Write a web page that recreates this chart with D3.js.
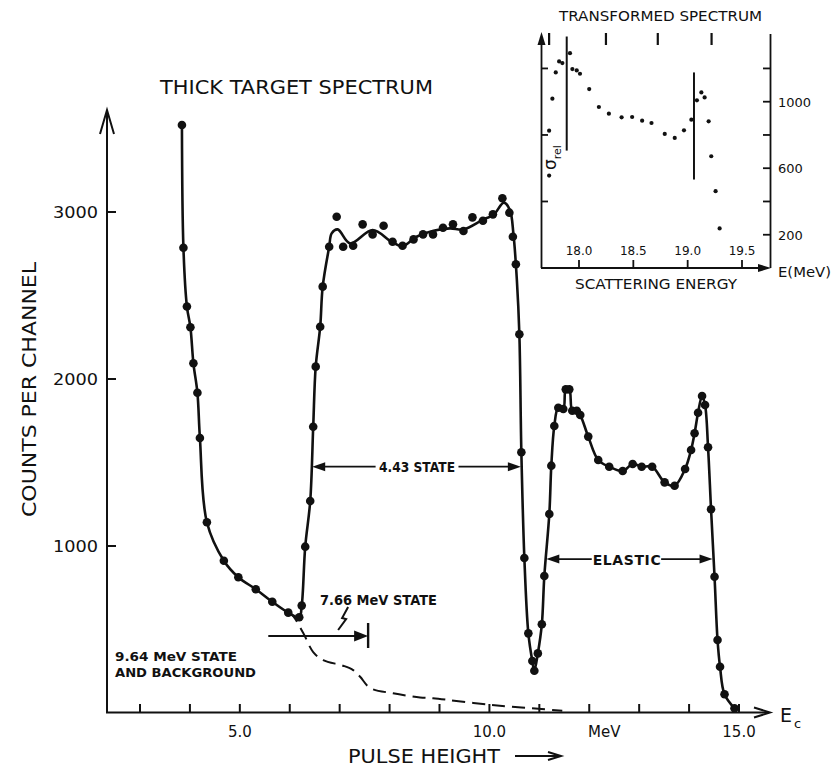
<!DOCTYPE html>
<html><head><meta charset="utf-8">
<script src="https://cdn.jsdelivr.net/npm/d3@7"></script>
<style>
html,body{margin:0;padding:0;background:#fff;}
text{font-family:"DejaVu Sans","Liberation Sans",sans-serif;fill:#111;}
</style></head>
<body>
<svg id="c" width="831" height="767"></svg>
<script>
// ---------- DATA ----------
// main spectrum measured points (pulse height in MeV, counts per channel)
const mainMeV = [3.84,3.87,3.94,4.01,4.07,4.15,4.20,4.34,4.68,4.97,5.32,5.65,5.97,6.19,6.24,6.31,6.41,6.47,6.52,6.61,6.66,6.79,
  6.94,7.07,7.27,7.46,7.66,7.88,8.06,8.26,8.48,8.67,8.87,9.07,9.27,9.48,9.66,9.87,10.07,10.26,10.40,10.47,10.53,10.60,
  10.64,10.70,10.78,10.86,10.90,10.97,11.05,11.10,11.20,11.24,11.30,11.38,11.48,11.53,11.60,11.66,11.75,11.82,11.98,12.18,
  12.40,12.67,12.87,13.05,13.26,13.51,13.71,13.92,14.04,14.11,14.18,14.26,14.32,14.38,14.44,14.51,14.57,14.62,14.71,14.91];
const mainCounts = [3521,2786,2434,2310,2094,1918,1647,1142,912,813,741,666,601,573,643,996,1269,1714,2074,2313,2553,2792,
  2972,2792,2798,2926,2866,2918,2822,2798,2836,2866,2866,2906,2926,2886,2968,2948,2986,3082,2996,2852,2687,2268,
  1561,928,477,311,253,357,531,820,1192,1481,1719,1828,1820,1938,1938,1810,1810,1784,1655,1515,
  1475,1449,1491,1475,1475,1381,1361,1461,1575,1675,1798,1898,1844,1591,1220,816,437,277,112,28];
// smooth fitted line across the 4.43 plateau (elsewhere it follows the points)
const plateauFitMeV = [6.84,6.96,7.21,7.66,8.04,8.26,8.54,8.88,9.21,9.48,9.88,10.08,10.29,10.41,10.48,10.55,10.60];
const plateauFitCounts = [2872,2896,2812,2892,2822,2796,2852,2888,2902,2896,2956,2982,3056,3012,2872,2593,2268];
// dashed "9.64 MeV state and background" curve
const bgMeV = [5.97,6.05,6.27,6.47,6.67,7.07,7.27,7.41,7.61,8.07,8.61,8.87,10.05,11.46];
const bgCounts = [601,587,479,365,317,283,257,217,150,118,93,88,48,14];
// axis ticks
const xTicks = [3,4,5,6,7,8,9,10,11,12,13,14,15];
const xTickLabels = ["5.0","10.0","MeV","15.0"];
const xTickLabelPos = [5,10,12.3,15];
const yTicks = [1000,2000,3000];
const yTickLabels = ["1000","2000","3000"];

// inset: transformed spectrum
const insetE = [17.725,17.725,17.755,17.786,17.817,17.847,17.917,17.939,17.979,18.009,18.094,18.183,18.275,18.392,18.489,
  18.581,18.667,18.789,18.881,18.966,19.034,19.085,19.126,19.156,19.193,19.217,19.257,19.294];
const insetSigma = [556,826,1018,1176,1242,1232,1292,1196,1188,1168,1076,968,928,906,908,886,872,806,782,828,
  892,1008,1056,1026,882,672,462,238];
const insetBarE = [17.887,19.058];
const insetBarLow = [706,532];
const insetBarHigh = [1392,1176];
const insetTopMarksE = [17.725,18.248,18.725,19.22];
const insetXTicks = [18.0,18.5,19.0,19.5];
const insetXTickLabels = ["18.0","18.5","19.0","19.5"];
const insetRightTicks = [200,400,600,800,1000,1200];
const insetRightLabels = [200,600,1000];
const insetLeftTicks = [400,800,1200];

// ---------- DRAW ----------
const svg = d3.select("#c");
const ink = "#111";

const x = d3.scaleLinear().domain([3,15]).range([140,739]);
const y = d3.scaleLinear().domain([0,3000]).range([713,212]);

function tri(g, tx, ty, dir, len, hw){
  let pts;
  if(dir==="right") pts=[[tx,ty],[tx-len,ty-hw],[tx-len,ty+hw]];
  else if(dir==="left") pts=[[tx,ty],[tx+len,ty-hw],[tx+len,ty+hw]];
  else pts=[[tx,ty],[tx-hw,ty+len],[tx+hw,ty+len]];
  g.append("path").attr("d","M"+pts.map(p=>p.join(",")).join("L")+"Z").attr("fill",ink);
}

// main axes
const ax = svg.append("g").attr("stroke",ink).attr("fill","none").attr("stroke-width",2);
ax.append("line").attr("x1",107).attr("x2",107).attr("y1",111).attr("y2",713);
ax.append("path").attr("d","M100,134L107,110L114,134");
ax.append("line").attr("x1",106).attr("x2",769).attr("y1",712.5).attr("y2",712.5);
ax.append("path").attr("d","M754,707.5L770,712.5L754,717.5");
xTicks.forEach(t=>ax.append("line").attr("x1",x(t)).attr("x2",x(t)).attr("y1",712).attr("y2",704));
yTicks.forEach(t=>ax.append("line").attr("x1",107).attr("x2",116).attr("y1",y(t)).attr("y2",y(t)));

xTickLabels.forEach((l,i)=>svg.append("text").attr("x",x(xTickLabelPos[i])).attr("y",737)
  .attr("text-anchor","middle").attr("font-size",15).text(l));
yTickLabels.forEach((l,i)=>svg.append("text").attr("x",98).attr("y",y(yTicks[i])+6)
  .attr("text-anchor","end").attr("font-size",16).attr("textLength",45).attr("lengthAdjust","spacingAndGlyphs").text(l));

// titles
svg.append("text").attr("x",160).attr("y",94).attr("font-size",20).attr("textLength",273)
  .attr("lengthAdjust","spacingAndGlyphs").text("THICK TARGET SPECTRUM");
svg.append("text").attr("transform","translate(36,517) rotate(-90)").attr("font-size",20)
  .attr("textLength",255).attr("lengthAdjust","spacingAndGlyphs").text("COUNTS PER CHANNEL");
svg.append("text").attr("x",348).attr("y",763).attr("font-size",20).attr("textLength",152)
  .attr("lengthAdjust","spacingAndGlyphs").text("PULSE HEIGHT");
ax.append("line").attr("x1",515).attr("x2",560).attr("y1",756).attr("y2",756);
ax.append("path").attr("d","M548,752L561,756L548,760");
const ec = svg.append("text").attr("x",780).attr("y",722).attr("font-size",19);
ec.append("tspan").text("E");
ec.append("tspan").attr("font-size",13).attr("dy",6).attr("dx",2).text("c");

// curves
const pts = mainMeV.map((m,i)=>[m,mainCounts[i]]);
const plateau = plateauFitMeV.map((m,i)=>[m,plateauFitCounts[i]]);
const fit = pts.slice(0,22).concat(plateau).concat(pts.slice(44));
const line = d3.line().x(d=>x(d[0])).y(d=>y(d[1])).curve(d3.curveCatmullRom.alpha(0.5));
svg.append("path").attr("d",line(fit)).attr("fill","none").attr("stroke",ink).attr("stroke-width",2.6);
const bg = bgMeV.map((m,i)=>[m,bgCounts[i]]);
svg.append("path").attr("d",line(bg)).attr("fill","none").attr("stroke",ink).attr("stroke-width",2)
  .attr("stroke-dasharray","13,7");
svg.append("g").selectAll("circle").data(pts).join("circle")
  .attr("cx",d=>x(d[0])).attr("cy",d=>y(d[1])).attr("r",4.3).attr("fill",ink);

// annotations
const an = svg.append("g").attr("stroke",ink).attr("stroke-width",1.8).attr("fill","none");
// 4.43 state
const yA = y(1475);
an.append("line").attr("x1",x(6.45)+8).attr("x2",x(7.72)).attr("y1",yA).attr("y2",yA);
an.append("line").attr("x1",x(9.38)).attr("x2",x(10.63)-8).attr("y1",yA).attr("y2",yA);
tri(svg,x(6.45),yA,"left",13,4.5); tri(svg,x(10.63),yA,"right",13,4.5);
svg.append("text").attr("x",x(8.55)).attr("y",yA+5.5).attr("text-anchor","middle").attr("font-size",14)
  .attr("font-weight","bold").attr("textLength",76).attr("lengthAdjust","spacingAndGlyphs").text("4.43 STATE");
// elastic
const yE = y(922);
an.append("line").attr("x1",x(11.14)+8).attr("x2",x(12.05)).attr("y1",yE).attr("y2",yE);
an.append("line").attr("x1",x(13.44)).attr("x2",x(14.47)-8).attr("y1",yE).attr("y2",yE);
tri(svg,x(11.14),yE,"left",13,4.5); tri(svg,x(14.47),yE,"right",13,4.5);
svg.append("text").attr("x",x(12.75)).attr("y",yE+5.5).attr("text-anchor","middle").attr("font-size",14)
  .attr("font-weight","bold").attr("textLength",68).attr("lengthAdjust","spacing").text("ELASTIC");
// 7.66 MeV state
const y7 = y(461);
an.append("line").attr("x1",x(5.57)).attr("x2",x(7.57)-8).attr("y1",y7).attr("y2",y7);
tri(svg,x(7.57),y7,"right",14,5.5);
an.append("line").attr("x1",x(7.57)).attr("x2",x(7.57)).attr("y1",y7-13).attr("y2",y7+12).attr("stroke-width",2.4);
an.append("path").attr("d",`M${x(7.57)-30},${y7-6}L${x(7.57)-22},${y7-17}L${x(7.57)-26},${y7-18}L${x(7.57)-20},${y7-29}`).attr("stroke-width",2);
svg.append("text").attr("x",320).attr("y",605).attr("font-size",13.5).attr("font-weight","bold")
  .attr("textLength",117).attr("lengthAdjust","spacingAndGlyphs").text("7.66 MeV STATE");
svg.append("text").attr("x",115).attr("y",661).attr("font-size",13).attr("font-weight","bold")
  .attr("textLength",122).attr("lengthAdjust","spacingAndGlyphs").text("9.64 MeV STATE");
svg.append("text").attr("x",115).attr("y",677).attr("font-size",13).attr("font-weight","bold")
  .attr("textLength",141).attr("lengthAdjust","spacingAndGlyphs").text("AND BACKGROUND");

// ---------- INSET ----------
const ix = d3.scaleLinear().domain([18,19.5]).range([579,742]);
const iy = d3.scaleLinear().domain([0,1000]).range([268,101.7]);
const ia = svg.append("g").attr("stroke",ink).attr("stroke-width",1.8).attr("fill","none");
ia.append("line").attr("x1",541.5).attr("x2",541.5).attr("y1",268).attr("y2",42);
tri(svg,541.5,32,"up",13,4);
ia.append("line").attr("x1",770.5).attr("x2",770.5).attr("y1",268).attr("y2",34);
ia.append("line").attr("x1",541).attr("x2",760).attr("y1",268).attr("y2",268);
tri(svg,771,268,"right",13,4);
insetXTicks.forEach(t=>ia.append("line").attr("x1",ix(t)).attr("x2",ix(t)).attr("y1",268).attr("y2",260));
insetRightTicks.forEach(t=>ia.append("line").attr("x1",770).attr("x2",763).attr("y1",iy(t)).attr("y2",iy(t)));
insetLeftTicks.forEach(t=>ia.append("line").attr("x1",541).attr("x2",548).attr("y1",iy(t)).attr("y2",iy(t)));
insetTopMarksE.forEach(t=>ia.append("line").attr("x1",ix(t)).attr("x2",ix(t)).attr("y1",33).attr("y2",45).attr("stroke-width",2.2));
insetBarE.forEach((e,i)=>ia.append("line").attr("x1",ix(e)).attr("x2",ix(e))
  .attr("y1",iy(insetBarLow[i])).attr("y2",iy(insetBarHigh[i])).attr("stroke-width",2));
insetXTickLabels.forEach((l,i)=>svg.append("text").attr("x",ix(insetXTicks[i])).attr("y",255)
  .attr("text-anchor","middle").attr("font-size",12).text(l));
insetRightLabels.forEach(v=>svg.append("text").attr("x",778).attr("y",iy(v)+5)
  .attr("font-size",13).text(v));
svg.append("g").selectAll("circle").data(insetE.map((e,i)=>[e,insetSigma[i]])).join("circle")
  .attr("cx",d=>ix(d[0])).attr("cy",d=>iy(d[1])).attr("r",2.1).attr("fill",ink);
svg.append("text").attr("x",559).attr("y",21).attr("font-size",14).attr("textLength",203)
  .attr("lengthAdjust","spacingAndGlyphs").text("TRANSFORMED SPECTRUM");
svg.append("text").attr("x",575).attr("y",289).attr("font-size",14).attr("textLength",162)
  .attr("lengthAdjust","spacingAndGlyphs").text("SCATTERING ENERGY");
svg.append("text").attr("x",778).attr("y",277).attr("font-size",14).attr("textLength",53)
  .attr("lengthAdjust","spacingAndGlyphs").text("E(MeV)");
const sg = svg.append("text").attr("transform","translate(556,170) rotate(-90)").attr("font-size",17);
sg.append("tspan").text("σ");
sg.append("tspan").attr("font-size",11).attr("dy",5).text("rel");
</script>
</body></html>
